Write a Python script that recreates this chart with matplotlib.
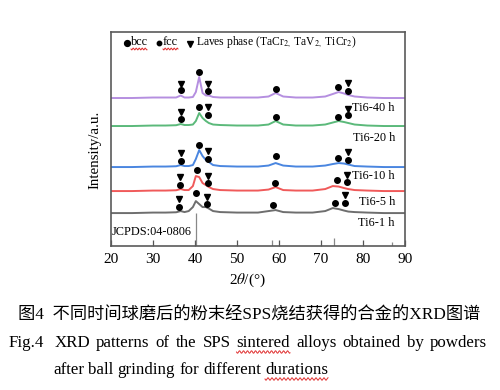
import numpy as np
import matplotlib
matplotlib.use("Agg")
import matplotlib.pyplot as plt

plt.rcParams['font.family'] = ['Liberation Serif', 'Noto Sans CJK SC', 'DejaVu Sans']
plt.rcParams['mathtext.fontset'] = 'stix'

# ---------------- data ----------------
two_theta = [20, 25, 30, 33, 35.5, 36.6, 37.5, 38.5, 39.5, 40.2, 41.0, 41.8, 42.6, 43.3,
             44.3, 46, 50, 55, 57.5, 59.2, 61, 64, 68, 71, 72.8, 74.2, 75.5, 76.5, 78, 81, 85, 90]

samples = ["Ti6-1 h", "Ti6-5 h", "Ti6-10 h", "Ti6-20 h", "Ti6-40 h"]
offsets = [33, 55, 79, 120, 148]
colors = ["#6e6e6e", "#f05a5a", "#4a86e0", "#5bb97a", "#b58fe0"]

int_1h = [0, 0, 0.5, 0.5, 0.8, 2, 1, 2, 6, 12, 9, 6, 6, 4.5, 2, 1, 0.5, 0.5, 2, 3, 1, 0.5, 0.5, 2, 5, 4, 2.5, 1.5, 1, 0.5, 0, 0]
int_5h = [0, 0, 0.5, 0.5, 0.8, 2, 1, 1, 5, 15, 14, 8, 6, 4, 2, 1, 0.5, 0.5, 1.5, 4, 1, 0.5, 0.5, 2, 5, 4.5, 3, 2, 1, 0.5, 0, 0]
int_10h = [0, 0, 0.5, 0.5, 0.8, 2, 1, 1, 2, 8, 17, 11, 7, 5, 2, 1, 0.5, 0.5, 1.5, 4, 1.5, 0.5, 0.5, 1.5, 3, 4, 3.5, 2.5, 1, 0.5, 0, 0]
int_20h = [0, 0, 0.5, 0.5, 0.8, 2, 1, 1, 1.5, 5, 13, 8, 5, 3, 1.5, 1, 0.5, 0.5, 1.5, 5, 1.5, 0.5, 0.5, 1.5, 3.5, 5, 4, 3, 1.5, 0.5, 0, 0]
int_40h = [0, 0, 0.5, 0.5, 0.5, 2.5, 0.5, 0.5, 1, 6, 21, 5, 2.5, 2.5, 1, 0.5, 0.5, 0.5, 1.5, 5, 1.5, 0.5, 0.5, 1.5, 4, 6, 4.5, 3, 1.5, 0.5, 0, 0]
intensities = [int_1h, int_5h, int_10h, int_20h, int_40h]

# phase markers (2theta, height above baseline)
bcc_x = [[36.2, 40.2, 42.9, 58.6, 73.3, 75.6],
         [36.4, 40.5, 43.0, 59.0, 73.8, 76.3],
         [36.6, 41.0, 43.0, 59.2, 74.0, 76.4],
         [36.6, 41.0, 43.0, 59.2, 74.0, 76.5],
         [36.6, 41.0, 43.2, 59.2, 74.1, 76.4]]
bcc_h = [[6, 20, 9, 8, 10, 10],
         [6, 21, 8, 8, 11, 9],
         [6, 22, 8, 11, 9, 7],
         [7, 19, 11, 9, 9, 11],
         [8, 26, 7, 9, 11, 7]]
laves_x = [[36.2, 42.9, 75.6],
           [36.4, 43.0, 76.3],
           [36.6, 43.0, 76.4],
           [36.6, 43.0, 76.5],
           [36.6, 43.2, 76.4]]
laves_h = [[14, 16, 18],
           [14, 15, 16],
           [14, 16, 15],
           [14, 19, 17],
           [14, 14, 15]]

label_y = [23, 44, 70, 108, 138]

jcpds_x = [40.2, 58.3, 73.2, 86.9]
jcpds_h = [33, 6, 8, 4]

x_ticks = [20, 30, 40, 50, 60, 70, 80, 90]

# ---------------- figure ----------------
fig = plt.figure(figsize=(5.0, 3.9), dpi=100)
ax = fig.add_axes([0.222, 0.369, 0.588, 0.549])

for inten, off, col in zip(intensities, offsets, colors):
    ax.plot(two_theta, np.array(inten) + off, color=col, lw=1.4, solid_joinstyle='round')

for i, off in enumerate(offsets):
    ax.plot(bcc_x[i], np.array(bcc_h[i]) + off, 'o', color='black', ms=4.0, mec='black')
    ax.plot(laves_x[i], np.array(laves_h[i]) + off, 'v', color='black', ms=4.6)
    ax.text(87.6, label_y[i], samples[i], ha='right', va='center', fontsize=8.8)

ax.vlines(jcpds_x, 0, jcpds_h, color='#888888', lw=0.9)
ax.text(20.2, 14, "JCPDS:04-0806", ha='left', va='center', fontsize=8.8)

# legend-like header
ax.plot([23.8], [203], 'o', color='black', ms=4.2)
ax.text(24.8, 204, "bcc", ha='left', va='center', fontsize=8.8)
ax.plot([31.4], [203], 'o', color='black', ms=3.2)
ax.text(32.4, 204, "fcc", ha='left', va='center', fontsize=8.8)
ax.plot([38.8], [202], 'v', color='black', ms=4.4)
ax.text(40.3, 204, r"Laves phase (TaCr$_{2,}$ TaV$_{2,}$ TiCr$_2$)", ha='left', va='center', fontsize=8.3)

ax.set_xlim(20, 90)
ax.set_ylim(0, 214)
ax.set_xticks(x_ticks)
ax.set_xticklabels([str(t) for t in x_ticks], fontsize=11)
ax.set_yticks([])
ax.tick_params(axis='x', direction='in', length=4, width=0.9, color='#555555', pad=5)
for sp in ax.spines.values():
    sp.set_color('#5a5a5a')
    sp.set_linewidth(1.2)

fig.text(95 / 500, 1 - 150 / 390, "Intensity/a.u.", rotation=90, ha='center', va='center', fontsize=10.8)
fig.text(247 / 500, 1 - 280 / 390, r"2$\theta$/(°)", ha='center', va='center', fontsize=11)

def wavy(x0, x1, y, amp=1.2, period=4.0):
    xs = np.linspace(x0, x1, int((x1 - x0) * 3) + 2)
    ys = y + amp * np.sin(2 * np.pi * (xs - x0) / period)
    fig.add_artist(plt.Line2D(xs / 500, 1 - ys / 390, color='#e03030', lw=0.7, transform=fig.transFigure))

# caption
fig.text(249 / 500, 1 - 316 / 390, "图4  不同时间球磨后的粉末经SPS烧结获得的合金的XRD图谱",
         ha='center', va='center', fontsize=12.4)

fig.canvas.draw()
renderer = fig.canvas.get_renderer()

def justified(words, x0, x1, y, fs, underline=(), first_gap=1.0):
    arts = []
    for w in words:
        t = fig.text(0, 1 - y / 390, w, ha='left', va='center', fontsize=fs)
        arts.append(t)
    widths = [a.get_window_extent(renderer).width for a in arts]
    n = len(words) - 1
    gap = (x1 - x0 - sum(widths)) / (n - 1 + first_gap)
    x = x0
    for k, (a, w, wd) in enumerate(zip(arts, words, widths)):
        a.set_x(x / 500)
        if w in underline:
            wavy(x, x + wd, y + 9)
        x += wd + (gap * first_gap if k == 0 else gap)

justified(["Fig.4", "XRD", "patterns", "of", "the", "SPS", "sintered", "alloys", "obtained", "by", "powders"],
          9, 487, 343, 12.2, underline=("sintered",), first_gap=1.6)
justified(["after", "ball", "grinding", "for", "different", "durations"], 53, 328, 370, 12.2,
          underline=("durations",))

wavy(131, 147, 49, amp=0.9, period=3)
wavy(163, 178, 49, amp=0.9, period=3)

fig.savefig("out.png", dpi=100)
